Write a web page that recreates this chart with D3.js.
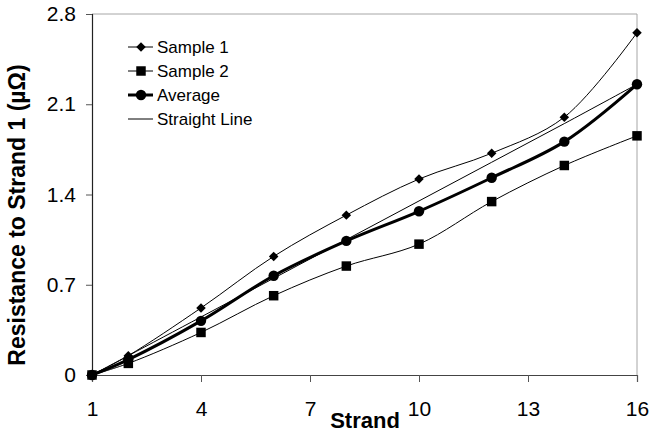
<!DOCTYPE html>
<html>
<head>
<meta charset="utf-8">
<script src="https://cdnjs.cloudflare.com/ajax/libs/d3/7.8.5/d3.min.js"></script>
<style>
  body { margin: 0; background: #fff; }
  svg { display: block; font-family: "Liberation Sans", Arial, sans-serif; }
</style>
</head>
<body>
<div id="chart"></div>
<script>
//Chart data
var strands = [1, 2, 4, 6, 8, 10, 12, 14, 16];
var sample1 = [0, 0.15, 0.52, 0.92, 1.24, 1.52, 1.72, 2.0, 2.655];
var sample2 = [0, 0.09, 0.33, 0.615, 0.845, 1.015, 1.345, 1.625, 1.855];
var average = [0, 0.12, 0.42, 0.77, 1.04, 1.27, 1.53, 1.81, 2.255];
var straight = [0, 0.15, 0.45, 0.75, 1.05, 1.35, 1.65, 1.95, 2.255];
var xTicks = [1, 4, 7, 10, 13, 16];
var yTicks = [0, 0.7, 1.4, 2.1, 2.8];

var series = [
  { name: "Sample 1", values: sample1, marker: "diamond", width: 1 },
  { name: "Sample 2", values: sample2, marker: "square", width: 1 },
  { name: "Average", values: average, marker: "circle", width: 3 },
  { name: "Straight Line", values: straight, marker: null, width: 1 }
];

//Setup SVG size vars
var W = 649, H = 436;
var margin = { top: 14, right: 12, bottom: 61, left: 92 },
  width = W - margin.left - margin.right,
  height = H - margin.top - margin.bottom;

var svg = d3.select("#chart").append("svg")
  .attr("width", W)
  .attr("height", H);

var g = svg.append("g")
  .attr("transform", "translate(" + margin.left + "," + margin.top + ")");

var x = d3.scaleLinear().domain([1, 16]).range([0, width]);
var y = d3.scaleLinear().domain([0, 2.8]).range([height, 0]);

//Plot frame (top and right in grey)
g.append("line").attr("x1", 0).attr("x2", width).attr("y1", 0).attr("y2", 0)
  .attr("stroke", "#a6a6a6").attr("stroke-width", 1);
g.append("line").attr("x1", width).attr("x2", width).attr("y1", 0).attr("y2", height)
  .attr("stroke", "#a6a6a6").attr("stroke-width", 1);

//Axes
var xAxis = g.append("g")
  .attr("transform", "translate(0," + height + ")")
  .call(d3.axisBottom(x).tickValues(xTicks).tickSize(7).tickPadding(19).tickFormat(d3.format("d")));
var yAxis = g.append("g")
  .call(d3.axisLeft(y).tickValues(yTicks).tickSize(6).tickPadding(10).tickFormat(function(d) {
    return d === 0 ? "0" : d3.format(".1f")(d);
  }));

[xAxis, yAxis].forEach(function(a) {
  a.select(".domain").attr("stroke", "#222").attr("stroke-width", 1.2);
  a.selectAll(".tick line").attr("stroke", "#555");
  a.selectAll("text")
    .style("font-family", "Liberation Sans, Arial, sans-serif")
    .style("font-size", "21px")
    .attr("fill", "#000");
});
xAxis.select(".domain").attr("stroke", "#444");

//Axis titles
svg.append("text")
  .attr("x", 365)
  .attr("y", 428)
  .attr("text-anchor", "middle")
  .style("font-size", "22px")
  .style("font-weight", "bold")
  .text("Strand");

svg.append("text")
  .attr("transform", "translate(25," + 215 + ") rotate(-90)")
  .attr("text-anchor", "middle")
  .style("font-size", "23px")
  .style("font-weight", "bold")
  .text("Resistance to Strand 1 (\u00b5\u03a9)");

//Lines
var line = d3.line()
  .x(function(d) { return x(d[0]); })
  .y(function(d) { return y(d[1]); })
  .curve(d3.curveCatmullRom.alpha(0.5));

function symbolFor(m, size) {
  var type = m === "circle" ? d3.symbolCircle : d3.symbolSquare;
  return d3.symbol().type(type).size(size)();
}
var markerSize = { diamond: 45, square: 90, circle: 85 };
function markerRot(m) { return m === "diamond" ? " rotate(45)" : ""; }

// draw straight line first, then others
series.slice().reverse().forEach(function(s) {
  var pts = strands.map(function(d, i) { return [d, s.values[i]]; });
  g.append("path")
    .datum(pts)
    .attr("fill", "none")
    .attr("stroke", "#000")
    .attr("stroke-width", s.width)
    .attr("d", line);
  if (s.marker) {
    g.selectAll(null)
      .data(pts)
      .enter()
      .append("path")
      .attr("transform", function(d) {
        return "translate(" + x(d[0]) + "," + y(d[1]) + ")" + markerRot(s.marker);
      })
      .attr("d", symbolFor(s.marker, markerSize[s.marker]))
      .attr("fill", "#000");
  }
});

//Legend
var legend = svg.selectAll(".legend")
  .data(series)
  .enter()
  .append("g")
  .attr("class", "legend")
  .attr("transform", function(d, i) { return "translate(128," + (47 + i * 24) + ")"; });

legend.append("line")
  .attr("x1", 0).attr("x2", 25)
  .attr("stroke", "#000")
  .attr("stroke-width", function(d) { return d.width; });

legend.filter(function(d) { return d.marker; })
  .append("path")
  .attr("transform", function(d) { return "translate(13,0)" + markerRot(d.marker); })
  .attr("d", function(d) { return symbolFor(d.marker, markerSize[d.marker]); })
  .attr("fill", "#000");

legend.append("text")
  .attr("x", 29)
  .attr("dy", "0.35em")
  .style("font-size", "17px")
  .text(function(d) { return d.name; });
</script>
</body>
</html>
